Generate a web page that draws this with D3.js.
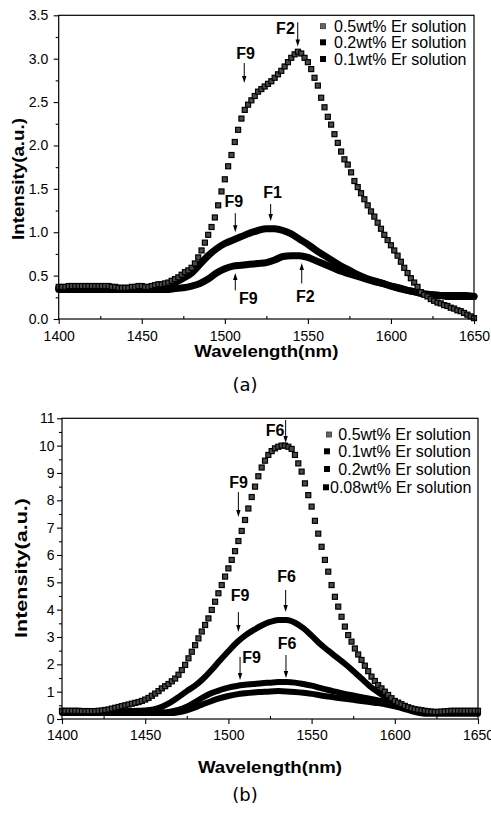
<!DOCTYPE html>
<html><head><meta charset="utf-8">
<script src="https://cdn.jsdelivr.net/npm/d3@7"></script>
<style>body{margin:0;background:#fff}svg{display:block}</style>
</head><body><svg id="c" width="491" height="816"></svg>
<script>
// ---------- data ----------
const wl2 = d3.range(1400, 1651, 2);   // wavelengths of the dotted 0.5wt% series
const wl5 = d3.range(1400, 1651, 5);   // wavelengths of the dense series
const xTicks = [1400, 1450, 1500, 1550, 1600, 1650];
const topYTicks = [0, 0.5, 1, 1.5, 2, 2.5, 3, 3.5];
const botYTicks = [0,1,2,3,4,5,6,7,8,9,10,11];
const topLegend = ["0.5wt% Er solution", "0.2wt% Er solution", "0.1wt% Er solution"];
const botLegend = ["0.5wt% Er solution", "0.1wt% Er solution", "0.2wt% Er solution", "0.08wt% Er solution"];

const top05 = [0.37,0.37,0.37,0.38,0.38,0.38,0.38,0.38,0.38,0.38,0.38,0.38,0.38,0.38,0.38,0.38,
  0.37,0.37,0.36,0.36,0.36,0.36,0.37,0.37,0.38,0.38,
  0.37,0.37,0.38,0.39,0.40,0.40,0.41,0.42,0.44,0.46,
  0.48,0.51,0.54,0.56,0.59,0.64,0.71,0.79,0.88,0.97,
  1.06,1.17,1.31,1.47,1.61,1.76,1.89,2.04,2.18,2.31,
  2.41,2.47,2.52,2.57,2.62,2.65,2.68,2.71,2.74,2.78,
  2.82,2.86,2.91,2.96,3.01,3.05,3.08,3.06,3.01,2.96,
  2.88,2.78,2.69,2.55,2.44,2.33,2.24,2.13,2.03,1.93,
  1.84,1.78,1.69,1.59,1.52,1.45,1.38,1.31,1.24,1.18,
  1.11,1.04,0.97,0.91,0.85,0.79,0.73,0.66,0.59,0.53,
  0.47,0.42,0.37,0.31,0.28,0.26,0.23,0.21,0.19,0.18,
  0.16,0.15,0.13,0.12,0.10,0.09,0.07,0.05,0.03,0.01];
const top02 = [0.36,0.36,0.36,0.36,0.36,0.36,0.36,0.35,0.35,0.35,0.36,0.36,0.37,0.39,0.42,0.47,0.53,
  0.63,0.73,0.81,0.87,0.91,0.95,0.99,1.02,1.04,1.04,1.02,0.98,0.92,0.86,0.79,0.73,0.67,0.61,0.56,
  0.51,0.47,0.44,0.41,0.38,0.35,0.33,0.31,0.29,0.28,0.27,0.27,0.27,0.27,0.26];
const top01 = [0.34,0.34,0.34,0.34,0.34,0.34,0.34,0.34,0.34,0.34,0.34,0.34,0.34,0.34,0.35,0.36,0.38,
  0.41,0.46,0.53,0.58,0.61,0.62,0.63,0.64,0.65,0.68,0.72,0.73,0.73,0.71,0.67,0.63,0.59,0.55,0.52,
  0.49,0.46,0.43,0.41,0.38,0.36,0.33,0.31,0.29,0.28,0.27,0.26,0.26,0.26,0.26];

const bot05 = [0.30,0.30,0.30,0.30,0.30,0.30,0.29,0.29,0.29,0.29,0.29,
  0.30,0.31,0.33,0.35,0.38,0.41,0.44,0.47,0.50,0.53,
  0.56,0.59,0.62,0.66,0.71,0.77,0.85,0.93,1.02,1.12,
  1.20,1.28,1.38,1.48,1.62,1.79,1.98,2.22,2.46,2.70,
  2.95,3.20,3.44,3.68,3.99,4.29,4.60,4.90,5.21,5.51,
  5.82,6.14,6.51,6.88,7.28,7.70,8.12,8.50,8.88,9.20,
  9.45,9.66,9.80,9.90,9.96,10.00,10.00,9.96,9.88,9.66,
  9.35,9.05,8.62,8.19,7.77,7.25,6.78,6.30,5.82,5.39,
  4.90,4.47,4.11,3.74,3.38,3.07,2.83,2.58,2.36,2.16,
  1.95,1.75,1.55,1.39,1.24,1.12,1.00,0.88,0.76,0.66,
  0.60,0.54,0.48,0.43,0.39,0.36,0.34,0.32,0.30,0.28,
  0.27,0.26,0.26,0.27,0.28,0.29,0.30,0.30,0.30,0.30,
  0.30,0.30,0.30,0.30,0.30];
const bot01 = [0.28,0.28,0.28,0.28,0.28,0.28,0.28,0.28,0.29,0.30,0.31,0.35,0.45,0.60,0.80,1.02,1.22,
  1.48,1.80,2.15,2.48,2.80,3.05,3.25,3.42,3.55,3.62,3.62,3.52,3.32,3.05,2.75,2.50,2.26,2.02,1.76,
  1.48,1.20,0.98,0.78,0.60,0.46,0.36,0.30,0.27,0.26,0.26,0.26,0.26,0.26,0.26];
const bot02 = [0.25,0.25,0.25,0.25,0.25,0.25,0.25,0.25,0.25,0.25,0.25,0.25,0.25,0.27,0.33,0.45,0.62,
  0.80,0.95,1.06,1.15,1.21,1.25,1.28,1.31,1.33,1.35,1.35,1.33,1.28,1.22,1.14,1.06,0.99,0.92,0.86,
  0.80,0.74,0.68,0.62,0.54,0.44,0.33,0.26,0.23,0.23,0.23,0.23,0.23,0.23,0.23];
const bot008 = [0.22,0.22,0.22,0.22,0.22,0.22,0.22,0.22,0.22,0.22,0.22,0.22,0.22,0.22,0.25,0.32,0.42,
  0.55,0.66,0.76,0.84,0.90,0.94,0.97,0.99,1.01,1.02,1.01,0.99,0.96,0.92,0.87,0.82,0.78,0.74,0.70,
  0.66,0.62,0.58,0.53,0.46,0.38,0.29,0.22,0.19,0.19,0.19,0.19,0.19,0.19,0.19];

// annotations: label, label position (nm, value), arrow x (nm), arrow tail -> head (values)
const topNotes = [
  {t:"F2", tx:1536.5, ty:3.29, ax:1543.9, y1:3.42, y2:3.14},
  {t:"F9", tx:1512.5, ty:3.00, ax:1511.7, y1:2.95, y2:2.72},
  {t:"F9", tx:1505.4, ty:1.29, ax:1506.3, y1:1.22, y2:1.00},
  {t:"F1", tx:1528.7, ty:1.40, ax:1527.6, y1:1.325, y2:1.13},
  {t:"F9", tx:1514.2, ty:0.17, ax:1506.3, y1:0.33, y2:0.53},
  {t:"F2", tx:1548.4, ty:0.20, ax:1546.3, y1:0.41, y2:0.645}
];
const botNotes = [
  {t:"F6", tx:1528.0, ty:10.35, ax:1534.4, y1:10.94, y2:10.1},
  {t:"F9", tx:1506.1, ty:8.44, ax:1506.0, y1:8.3, y2:7.39},
  {t:"F6", tx:1534.9, ty:5.02, ax:1534.4, y1:4.72, y2:3.91},
  {t:"F9", tx:1507.0, ty:4.32, ax:1506.0, y1:3.91, y2:3.18},
  {t:"F6", tx:1535.2, ty:2.56, ax:1534.6, y1:2.34, y2:1.50},
  {t:"F9", tx:1513.9, ty:2.05, ax:1507.0, y1:2.27, y2:1.43}
];

// ---------- drawing ----------
const svg = d3.select("#c");
const FONT = "'Liberation Sans', Arial, sans-serif";

function panel(cfg) {
  const g = svg.append("g");
  const x = d3.scaleLinear().domain([1400, 1650]).range([cfg.left, cfg.right]);
  const y = d3.scaleLinear().domain([0, cfg.ymax]).range([cfg.bottom, cfg.top]);

  // dense series as thick bands
  const line = d3.line().x(d => x(d[0])).y(d => y(d[1])).curve(d3.curveMonotoneX);
  cfg.dense.forEach(s => {
    g.append("path").datum(wl5.map((w, i) => [w, s[i]]))
      .attr("d", line).attr("fill", "none").attr("stroke", "#000")
      .attr("stroke-width", cfg.bandW).attr("stroke-linejoin", "round").attr("stroke-linecap", "round");
  });
  // dotted 0.5wt% series as square markers
  const ms = 5;
  g.append("g").selectAll("rect").data(wl2.map((w, i) => [w, cfg.dots[i]])).join("rect")
    .attr("x", d => x(d[0]) - ms / 2).attr("y", d => y(d[1]) - ms / 2)
    .attr("width", ms).attr("height", ms)
    .attr("fill", "#4a4a4a").attr("stroke", "#000").attr("stroke-width", 1.2);

  // frame
  g.append("rect").attr("x", cfg.left).attr("y", cfg.top)
    .attr("width", cfg.right - cfg.left).attr("height", cfg.bottom - cfg.top)
    .attr("fill", "none").attr("stroke", "#000").attr("stroke-width", 1.2);

  // axes
  const xa = g.append("g").attr("transform", `translate(0,${cfg.bottom})`)
    .call(d3.axisBottom(x).tickValues(xTicks).tickFormat(d3.format("d")).tickSize(5).tickPadding(cfg.xpad));
  const xm = g.append("g").attr("transform", `translate(0,${cfg.bottom})`)
    .call(d3.axisBottom(x).tickValues(d3.range(1425, 1650, 50)).tickFormat("").tickSize(-3));
  const ya = g.append("g").attr("transform", `translate(${cfg.left},0)`)
    .call(d3.axisLeft(y).tickValues(cfg.yTicks).tickFormat(cfg.yFmt).tickSize(5).tickPadding(cfg.ypad));
  const ym = g.append("g").attr("transform", `translate(${cfg.left},0)`)
    .call(d3.axisLeft(y).tickValues(cfg.yMinor).tickFormat("").tickSize(3));
  [xa, xm, ya, ym].forEach(a => {
    a.select(".domain").remove();
    a.selectAll("line").attr("stroke", "#000").attr("stroke-width", 1.1);
    a.selectAll("text").attr("font-family", FONT).attr("font-size", 14).attr("fill", "#000");
  });

  // titles
  g.append("text").attr("x", (cfg.left + cfg.right) / 2).attr("y", cfg.xtY)
    .attr("text-anchor", "middle").attr("font-family", FONT).attr("font-weight", "bold")
    .attr("font-size", 16).attr("textLength", cfg.xtLen).attr("lengthAdjust", "spacingAndGlyphs")
    .text("Wavelength(nm)");
  g.append("text").attr("transform", `translate(${cfg.ytX},${cfg.ytY}) rotate(-90)`)
    .attr("text-anchor", "middle").attr("font-family", FONT).attr("font-weight", "bold")
    .attr("font-size", 16).attr("textLength", cfg.ytLen).attr("lengthAdjust", "spacingAndGlyphs")
    .text("Intensity(a.u.)");

  // annotations
  cfg.notes.forEach(n => {
    g.append("text").attr("x", x(n.tx)).attr("y", y(n.ty)).attr("text-anchor", "middle")
      .attr("font-family", FONT).attr("font-weight", "bold").attr("font-size", 16).text(n.t);
    const ax = x(n.ax), ty = y(n.y1), hy = y(n.y2);
    const dir = hy > ty ? 1 : -1;
    g.append("line").attr("x1", ax).attr("x2", ax).attr("y1", ty).attr("y2", hy - dir * 4)
      .attr("stroke", "#000").attr("stroke-width", 1);
    g.append("path").attr("d", `M${ax},${hy} L${ax - 2.2},${hy - dir * 7} L${ax + 2.2},${hy - dir * 7} Z`)
      .attr("fill", "#000");
  });

  // legend
  cfg.legend.forEach((t, i) => {
    const by = cfg.legY[i];
    const mx = cfg.legMX[i];
    if (i === 0) {
      g.append("rect").attr("x", mx - 2.5).attr("y", by - 8).attr("width", 5).attr("height", 5)
        .attr("fill", "#666").attr("stroke", "#333").attr("stroke-width", 0.8);
    } else {
      g.append("rect").attr("x", mx - 3).attr("y", by - 9).attr("width", 6).attr("height", 6)
        .attr("fill", "#000");
    }
    g.append("text").attr("x", cfg.legTX[i]).attr("y", by)
      .attr("font-family", FONT).attr("font-size", 16).text(t);
  });

  // panel label
  g.append("text").attr("x", 245).attr("y", cfg.labY).attr("text-anchor", "middle")
    .attr("font-family", "'DejaVu Sans', sans-serif").attr("font-size", 18).text(cfg.label);
}

panel({
  left: 58.7, right: 474, top: 15.3, bottom: 319, ymax: 3.5, bandW: 7,
  yTicks: topYTicks, yMinor: [0.25,0.75,1.25,1.75,2.25,2.75,3.25], yFmt: d3.format(".1f"),
  xpad: 7, ypad: 5.5, xtY: 357, xtLen: 144, ytX: 24, ytY: 179, ytLen: 122,
  dots: top05, dense: [top02, top01], notes: topNotes,
  legend: topLegend, legY: [31.7, 48.3, 65], legMX: [323, 323, 323], legTX: [334, 334, 334],
  labY: 391, label: "(a)"
});
panel({
  left: 62, right: 478, top: 418.3, bottom: 719, ymax: 11, bandW: 6,
  yTicks: botYTicks, yMinor: d3.range(0.5, 11, 1), yFmt: d3.format("d"),
  xpad: 6, ypad: 2.5, xtY: 773, xtLen: 144, ytX: 27, ytY: 568, ytLen: 140,
  dots: bot05, dense: [bot01, bot02, bot008], notes: botNotes,
  legend: botLegend, legY: [440, 457.3, 475, 493.3], legMX: [329, 327, 327, 326], legTX: [338.3, 338.3, 338.3, 330],
  labY: 801, label: "(b)"
});
</script></body></html>
